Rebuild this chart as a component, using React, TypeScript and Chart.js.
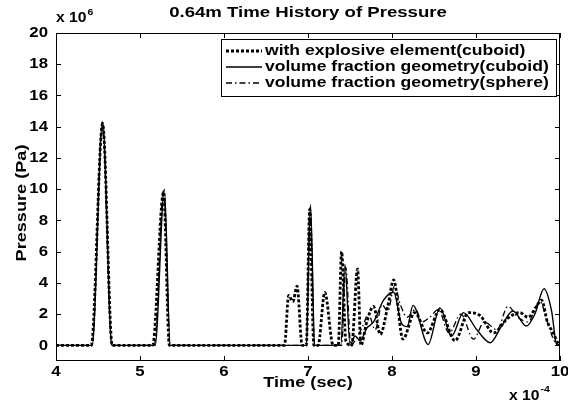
import React, { useEffect, useRef } from "react";
import { Chart, registerables } from "chart.js";
Chart.register(...registerables);

const titleText = "0.64m Time History of Pressure";
const xAxisTitle = "Time (sec)";
const yAxisTitle = "Pressure (Pa)";
const xTicks = [4, 5, 6, 7, 8, 9, 10];
const yTicks = [0, 2, 4, 6, 8, 10, 12, 14, 16, 18, 20];
const seriesLabels = [
  "with explosive element(cuboid)",
  "volume fraction geometry(cuboid)",
  "volume fraction geometry(sphere)",
];

// x in 1e-4 s, y in 1e6 Pa
const explosiveX = [4.0, 4.42, 4.555, 4.67, 5.15, 5.28, 5.35, 6.72, 6.77, 6.82, 6.87, 6.93, 6.98, 7.02, 7.07, 7.12, 7.2, 7.3, 7.36, 7.4, 7.45, 7.52, 7.59, 7.63, 7.7, 7.78, 7.86, 7.95, 8.02, 8.13, 8.27, 8.42, 8.57, 8.75, 8.91, 9.05, 9.21, 9.37, 9.52, 9.62, 9.72, 9.78, 9.85, 9.92, 9.98, 10];
const explosiveY = [0, 0, 14.2, 0, 0, 9.8, 0, 0, 3.2, 2.8, 3.8, 0, 0, 8.7, 0, 0, 3.4, 0, 0, 6.0, 0.3, 0, 4.9, 0, 1.5, 2.5, 0.7, 2.5, 4.2, 0.4, 2.1, 0.8, 2.3, 0.3, 2.1, 1.9, 0.8, 1.7, 2.1, 1.8, 2.5, 2.9, 1.5, 0.8, 0.1, 0];

const cuboidX = [4.0, 4.43, 4.555, 4.665, 5.18, 5.29, 5.36, 6.98, 7.03, 7.08, 7.39, 7.44, 7.5, 7.56, 7.62, 7.7, 7.78, 7.9, 8.02, 8.11, 8.18, 8.25, 8.43, 8.57, 8.71, 8.85, 9.01, 9.17, 9.3, 9.44, 9.6, 9.7, 9.81, 9.9, 9.96, 10];
const cuboidY = [0, 0, 14.3, 0, 0, 10.0, 0, 0, 9.0, 0, 0, 5.2, 0, 0.6, 0.3, 1.1, 1.5, 2.9, 3.4, 1.45, 1.2, 2.56, 0.06, 2.4, 0.6, 2.1, 1.0, 0.17, 1.2, 2.2, 1.24, 2.0, 3.63, 2.2, 0.06, 0];

const sphereX = [4.0, 4.43, 4.55, 4.665, 5.17, 5.28, 5.36, 6.98, 7.02, 7.08, 7.4, 7.45, 7.51, 7.58, 7.65, 7.72, 7.8, 7.88, 7.95, 8.03, 8.1, 8.18, 8.28, 8.36, 8.45, 8.55, 8.68, 8.82, 8.97, 9.1, 9.25, 9.38, 9.5, 9.62, 9.76, 9.85, 9.93, 10];
const sphereY = [0, 0, 14.3, 0, 0, 9.9, 0, 0, 8.8, 0, 0, 5.0, 0, 0.5, 1.2, 2.0, 1.0, 2.6, 2.2, 3.8, 2.6, 1.8, 2.3, 1.5, 1.8, 2.3, 0.8, 2.0, 0.4, 1.5, 1.0, 2.5, 1.8, 1.5, 2.8, 1.5, 0.3, 0];

const FONT = '"Liberation Sans", Arial, sans-serif';

function zip(xs: number[], ys: number[]) {
  return xs.map((x, i) => ({ x, y: ys[i] }));
}

function txt(ctx: CanvasRenderingContext2D, s: string, x: number, y: number, align: CanvasTextAlign, size: number, stretch: number, baseline: CanvasTextBaseline = "middle") {
  ctx.save();
  ctx.font = `bold ${size}px ${FONT}`;
  ctx.textAlign = align;
  ctx.textBaseline = baseline;
  ctx.translate(x, y);
  ctx.scale(stretch, 1);
  ctx.fillText(s, 0, 0);
  ctx.restore();
}

function widthOf(ctx: CanvasRenderingContext2D, s: string, size: number, stretch: number) {
  ctx.save();
  ctx.font = `bold ${size}px ${FONT}`;
  const w = ctx.measureText(s).width * stretch;
  ctx.restore();
  return w;
}

const lineStyles = [
  { width: 2.8, dash: [3, 2] },
  { width: 1.4, dash: [] as number[] },
  { width: 1.3, dash: [6, 3, 1.5, 3] },
];

const decorPlugin = {
  id: "decor",
  afterDraw(chart: any) {
    const ctx: CanvasRenderingContext2D = chart.ctx;
    const { left, right, top, bottom } = chart.chartArea;
    const xs = chart.scales.x;
    const ys = chart.scales.y;
    ctx.save();
    ctx.fillStyle = "#000";
    ctx.strokeStyle = "#000";
    ctx.lineWidth = 1;
    ctx.setLineDash([]);
    ctx.strokeRect(left + 0.5, top + 0.5, right - left - 1, bottom - top - 1);
    ctx.beginPath();
    xTicks.forEach((t) => {
      const px = Math.round(xs.getPixelForValue(t)) + 0.5;
      ctx.moveTo(px, bottom);
      ctx.lineTo(px, bottom - 5);
      ctx.moveTo(px, top);
      ctx.lineTo(px, top + 5);
    });
    yTicks.forEach((t) => {
      const py = Math.round(ys.getPixelForValue(t)) + 0.5;
      ctx.moveTo(left, py);
      ctx.lineTo(left + 5, py);
      ctx.moveTo(right, py);
      ctx.lineTo(right - 5, py);
    });
    ctx.stroke();
    xTicks.forEach((t) => {
      txt(ctx, String(t), xs.getPixelForValue(t), bottom + 11, "center", 15, 1.12);
    });
    yTicks.forEach((t) => {
      txt(ctx, String(t), left - 8, ys.getPixelForValue(t), "right", 15, 1.12);
    });
    txt(ctx, titleText, (left + right) / 2, 13, "center", 15.5, 1.2);
    txt(ctx, xAxisTitle, (left + right) / 2, 383, "center", 15.5, 1.17);
    ctx.save();
    ctx.translate(22, (top + bottom) / 2 + 6);
    ctx.rotate(-Math.PI / 2);
    txt(ctx, yAxisTitle, 0, 0, "center", 15.5, 1.17);
    ctx.restore();
    const w1 = widthOf(ctx, "x 10", 14, 1.12);
    txt(ctx, "x 10", left, 22, "left", 14, 1.12, "alphabetic");
    txt(ctx, "6", left + w1 + 1, 15, "left", 9.5, 1.1, "alphabetic");
    const w2 = widthOf(ctx, "x 10", 14, 1.12);
    txt(ctx, "x 10", 509, 400, "left", 14, 1.12, "alphabetic");
    txt(ctx, "-4", 509 + w2 + 1, 392, "left", 9.5, 1.1, "alphabetic");
    const lx = 221, ly = 39, lw = 335, lh = 57;
    ctx.fillStyle = "#fff";
    ctx.fillRect(lx, ly, lw, lh);
    ctx.strokeStyle = "#000";
    ctx.lineWidth = 1;
    ctx.strokeRect(lx + 0.5, ly + 0.5, lw, lh);
    ctx.fillStyle = "#000";
    const rows = [51, 67, 83];
    seriesLabels.forEach((lab, i) => {
      const st = lineStyles[i];
      ctx.save();
      ctx.lineWidth = st.width;
      ctx.setLineDash(st.dash);
      ctx.beginPath();
      ctx.moveTo(226, rows[i]);
      ctx.lineTo(262, rows[i]);
      ctx.stroke();
      ctx.restore();
      txt(ctx, lab, 265, rows[i], "left", 15, 1.17);
    });
    ctx.restore();
  },
};

export default function App() {
  const ref = useRef<HTMLCanvasElement | null>(null);
  useEffect(() => {
    if (!ref.current) return;
    const sets = [zip(explosiveX, explosiveY), zip(cuboidX, cuboidY), zip(sphereX, sphereY)];
    const chart = new Chart(ref.current, {
      type: "line",
      data: {
        datasets: sets.map((d, i) => ({
          label: seriesLabels[i],
          data: d,
          borderColor: "#000",
          backgroundColor: "#000",
          borderWidth: lineStyles[i].width,
          borderDash: lineStyles[i].dash,
          pointRadius: 0,
          cubicInterpolationMode: "monotone" as const,
          fill: false,
        })),
      },
      options: {
        animation: false,
        responsive: false,
        maintainAspectRatio: false,
        layout: { padding: { left: 56, right: 8, top: 33, bottom: 42 } },
        plugins: { legend: { display: false }, tooltip: { enabled: false }, title: { display: false } },
        scales: {
          x: { type: "linear", min: 4, max: 10, display: false },
          y: { type: "linear", min: -1, max: 20, display: false },
        },
      },
      plugins: [decorPlugin],
    });
    return () => chart.destroy();
  }, []);
  return (
    <div style={{ position: "absolute", left: 0, top: 0, width: 568, height: 403, background: "#fff" }}>
      <canvas ref={ref} width={568} height={403} style={{ display: "block" }} />
    </div>
  );
}
